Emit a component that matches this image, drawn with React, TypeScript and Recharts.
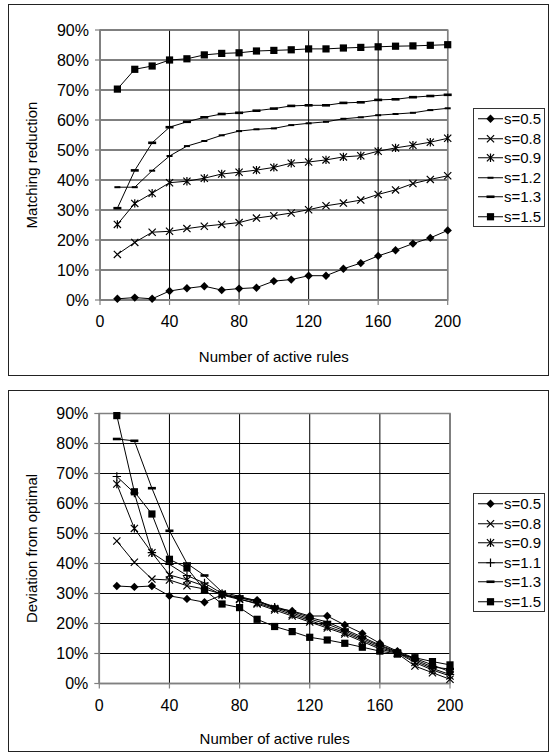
import React from 'react';
import {
  LineChart,
  Line,
  XAxis,
  YAxis,
  CartesianGrid,
  ReferenceArea,
  Legend,
  Label,
} from 'recharts';

// ---- data -----------------------------------------------------------------

const ruleCounts = [10, 20, 30, 40, 50, 60, 70, 80, 90, 100, 110, 120, 130, 140, 150, 160, 170, 180, 190, 200];
const xTicks = [0, 40, 80, 120, 160, 200];
const pctTicks = [0, 10, 20, 30, 40, 50, 60, 70, 80, 90];

// Matching reduction (%)
const reductionS05 = [0.4, 0.8, 0.4, 3.0, 3.9, 4.6, 3.3, 3.8, 4.1, 6.3, 6.8, 8.1, 8.1, 10.4, 12.3, 14.7, 16.6, 18.8, 20.7, 23.2];
const reductionS08 = [15.2, 19.2, 22.6, 22.9, 23.8, 24.6, 25.2, 25.8, 27.3, 28.1, 29.0, 30.1, 31.4, 32.3, 33.3, 35.2, 36.7, 38.8, 40.2, 41.4];
const reductionS09 = [25.2, 32.2, 35.6, 39.1, 39.6, 40.6, 42.0, 42.6, 43.3, 44.2, 45.6, 46.0, 46.7, 47.7, 48.1, 49.6, 50.7, 51.6, 52.6, 53.9];
const reductionS12 = [37.6, 37.6, 43.1, 48.0, 51.3, 53.0, 54.9, 56.3, 56.9, 57.2, 58.3, 58.9, 59.4, 60.4, 60.9, 61.6, 62.0, 62.4, 63.3, 63.9];
const reductionS13 = [30.6, 43.2, 52.4, 57.6, 59.4, 60.9, 62.0, 62.4, 63.1, 63.8, 64.7, 64.9, 64.9, 65.7, 65.9, 66.7, 66.9, 67.6, 68.0, 68.4];
const reductionS15 = [70.3, 76.9, 78.0, 80.0, 80.4, 81.7, 82.2, 82.4, 83.0, 83.2, 83.4, 83.7, 83.7, 84.0, 84.2, 84.4, 84.6, 84.7, 84.9, 85.1];

// Deviation from optimal (%)
const deviationS05 = [32.5, 32.2, 32.5, 29.2, 28.2, 27.1, 29.5, 28.5, 27.8, 25.1, 24.2, 22.5, 22.5, 19.5, 16.7, 13.4, 10.8, 8.4, 6.2, 3.9];
const deviationS08 = [47.5, 40.4, 34.8, 34.5, 32.6, 31.5, 29.8, 28.2, 26.5, 24.5, 22.5, 20.5, 18.5, 16.5, 14.0, 11.5, 10.0, 5.8, 3.6, 1.4];
const deviationS09 = [66.5, 51.7, 43.6, 36.2, 34.5, 32.5, 29.5, 28.0, 26.8, 25.0, 23.0, 21.0, 19.0, 17.0, 14.5, 12.0, 10.2, 7.0, 4.5, 2.5];
const deviationS11 = [69.0, 63.5, 43.6, 39.7, 36.0, 33.5, 30.0, 28.6, 27.2, 25.4, 23.5, 21.5, 19.8, 17.5, 15.0, 12.5, 10.4, 7.5, 5.0, 3.0];
const deviationS13 = [81.5, 80.9, 65.1, 50.9, 40.0, 36.0, 30.5, 29.0, 27.5, 25.6, 24.0, 22.0, 20.5, 18.0, 15.5, 12.8, 10.6, 8.0, 5.5, 4.8];
const deviationS15 = [89.3, 63.9, 56.5, 41.4, 38.5, 31.2, 26.5, 25.3, 21.4, 19.0, 17.3, 15.4, 14.5, 13.4, 12.1, 10.8, 9.8, 8.6, 7.3, 6.2];

const topLabels = ['s=0.5', 's=0.8', 's=0.9', 's=1.2', 's=1.3', 's=1.5'];
const bottomLabels = ['s=0.5', 's=0.8', 's=0.9', 's=1.1', 's=1.3', 's=1.5'];

// ---- styling --------------------------------------------------------------

const FONT = '"Liberation Sans", Arial, sans-serif';
const GREY = '#808080';

type MarkerKind = 'diamond' | 'cross' | 'asterisk' | 'plus' | 'shortDash' | 'longDash' | 'square';

const topMarkers: MarkerKind[] = ['diamond', 'cross', 'asterisk', 'shortDash', 'longDash', 'square'];
const bottomMarkers: MarkerKind[] = ['diamond', 'cross', 'asterisk', 'plus', 'longDash', 'square'];

function Marker({ kind, cx, cy }: { kind: MarkerKind; cx: number; cy: number }) {
  switch (kind) {
    case 'diamond':
      return <polygon points={`${cx},${cy - 4.2} ${cx + 4.2},${cy} ${cx},${cy + 4.2} ${cx - 4.2},${cy}`} fill="#000" />;
    case 'cross':
      return (
        <path
          d={`M${cx - 3.6},${cy - 3.6}L${cx + 3.6},${cy + 3.6}M${cx - 3.6},${cy + 3.6}L${cx + 3.6},${cy - 3.6}`}
          stroke="#000"
          strokeWidth={1.2}
          fill="none"
        />
      );
    case 'asterisk':
      return (
        <path
          d={`M${cx - 3.6},${cy - 3.6}L${cx + 3.6},${cy + 3.6}M${cx - 3.6},${cy + 3.6}L${cx + 3.6},${cy - 3.6}M${cx},${cy - 4.2}L${cx},${cy + 4.2}`}
          stroke="#000"
          strokeWidth={1.2}
          fill="none"
        />
      );
    case 'plus':
      return (
        <path
          d={`M${cx - 4.2},${cy}L${cx + 4.2},${cy}M${cx},${cy - 4.2}L${cx},${cy + 4.2}`}
          stroke="#000"
          strokeWidth={1.2}
          fill="none"
        />
      );
    case 'shortDash':
      return <rect x={cx - 3} y={cy - 1} width={6} height={2} fill="#000" />;
    case 'longDash':
      return <rect x={cx - 4} y={cy - 1.3} width={8} height={2.6} fill="#000" />;
    case 'square':
    default:
      return <rect x={cx - 3.6} y={cy - 3.6} width={7.2} height={7.2} fill="#000" />;
  }
}

const dotRenderer = (kind: MarkerKind) => (p: any) => {
  if (p.cx == null || p.cy == null) return <g key={`${p.dataKey}-${p.index}`} />;
  return (
    <g key={`${p.dataKey}-${p.index}`}>
      <Marker kind={kind} cx={p.cx} cy={p.cy} />
    </g>
  );
};

function LegendBox({ labels, markers }: { labels: string[]; markers: MarkerKind[] }) {
  return (
    <div
      style={{
        border: '1px solid #333',
        background: '#fff',
        boxSizing: 'border-box',
        width: '100%',
        fontFamily: FONT,
        fontSize: 15,
        color: '#000',
      }}
    >
      {labels.map((label, i) => (
        <div key={label} style={{ display: 'flex', alignItems: 'center', height: 19.5 }}>
          <svg width={30} height={19.5} style={{ display: 'block' }}>
            <line x1={4} y1={9.75} x2={29} y2={9.75} stroke="#000" strokeWidth={1} />
            <Marker kind={markers[i]} cx={16.5} cy={9.75} />
          </svg>
          <span style={{ lineHeight: '19.5px', whiteSpace: 'nowrap' }}>{label}</span>
        </div>
      ))}
    </div>
  );
}

type PanelProps = {
  top: number;
  height: number;
  plotLeft: number;
  plotRight: number;
  plotTop: number;
  plotBottom: number;
  series: number[][];
  labels: string[];
  markers: MarkerKind[];
  yTitle: string;
  xTitleDrop: number;
  legendTop: number;
};

function Panel(props: PanelProps) {
  const { top, height, plotLeft, plotRight, plotTop, plotBottom, series, labels, markers, yTitle, xTitleDrop, legendTop } = props;
  const rows = ruleCounts.map((x, i) => {
    const row: Record<string, number> = { x };
    series.forEach((s, k) => {
      row[`s${k}`] = s[i];
    });
    return row;
  });
  const width = 553;

  return (
    <div style={{ position: 'absolute', left: 0, top, width, height }}>
      <LineChart
        width={width}
        height={height}
        data={rows}
        margin={{ top: plotTop, right: width - plotRight, left: 0, bottom: 0 }}
      >
        <CartesianGrid stroke="#000" strokeWidth={1} />
        <XAxis
          dataKey="x"
          type="number"
          domain={[0, 200]}
          ticks={xTicks}
          interval={0}
          height={height - plotBottom}
          tickSize={5}
          tickMargin={11}
          axisLine={{ stroke: GREY, strokeWidth: 1.5 }}
          tickLine={{ stroke: GREY, strokeWidth: 1.2 }}
          tick={{ fill: '#000', fontSize: 16, fontFamily: FONT }}
        >
          <Label
            content={(lp: any) => {
              const vb = lp.viewBox || {};
              return (
                <text
                  x={vb.x + vb.width / 2}
                  y={vb.y + xTitleDrop}
                  textAnchor="middle"
                  fontFamily={FONT}
                  fontSize={15}
                  fill="#000"
                >
                  Number of active rules
                </text>
              );
            }}
          />
        </XAxis>
        <YAxis
          type="number"
          domain={[0, 90]}
          ticks={pctTicks}
          interval={0}
          width={plotLeft}
          tickSize={5}
          tickMargin={6}
          tickFormatter={(v: number) => `${v}%`}
          axisLine={{ stroke: GREY, strokeWidth: 1.5 }}
          tickLine={{ stroke: GREY, strokeWidth: 1.2 }}
          tick={{ fill: '#000', fontSize: 16, fontFamily: FONT }}
        >
          <Label
            content={(lp: any) => {
              const vb = lp.viewBox || {};
              const cy = vb.y + vb.height / 2;
              return (
                <text
                  x={31}
                  y={cy}
                  transform={`rotate(-90 31 ${cy})`}
                  textAnchor="middle"
                  dominantBaseline="central"
                  fontFamily={FONT}
                  fontSize={15}
                  fill="#000"
                >
                  {yTitle}
                </text>
              );
            }}
          />
        </YAxis>
        <ReferenceArea
          x1={0}
          x2={200}
          y1={0}
          y2={90}
          fill="none"
          fillOpacity={0}
          stroke={GREY}
          strokeWidth={1.5}
        />
        {series.map((_, k) => (
          <Line
            key={labels[k]}
            type="linear"
            dataKey={`s${k}`}
            name={labels[k]}
            stroke="#000"
            strokeWidth={1}
            dot={dotRenderer(markers[k])}
            activeDot={false}
            isAnimationActive={false}
          />
        ))}
        <Legend
          layout="vertical"
          align="center"
          verticalAlign="middle"
          wrapperStyle={{ left: 473, top: legendTop, width: 72 }}
          content={() => <LegendBox labels={labels} markers={markers} />}
        />
      </LineChart>
    </div>
  );
}

const frameStyle = (top: number, height: number): React.CSSProperties => ({
  position: 'absolute',
  left: 8,
  top,
  width: 541,
  height,
  border: '1px solid #222',
  boxSizing: 'border-box',
});

export default function App() {
  return (
    <div style={{ position: 'absolute', left: 0, top: 0, width: 553, height: 756, background: '#fff', fontFamily: FONT }}>
      <div style={frameStyle(4, 372)} />
      <div style={frameStyle(390, 362)} />
      <Panel
        top={0}
        height={380}
        plotLeft={100}
        plotRight={447.7}
        plotTop={30}
        plotBottom={300}
        series={[reductionS05, reductionS08, reductionS09, reductionS12, reductionS13, reductionS15]}
        labels={topLabels}
        markers={topMarkers}
        yTitle="Matching reduction"
        xTitleDrop={62}
        legendTop={108}
      />
      <Panel
        top={385}
        height={371}
        plotLeft={99.3}
        plotRight={450}
        plotTop={28.5}
        plotBottom={298.5}
        series={[deviationS05, deviationS08, deviationS09, deviationS11, deviationS13, deviationS15]}
        labels={bottomLabels}
        markers={bottomMarkers}
        yTitle="Deviation from optimal"
        xTitleDrop={60}
        legendTop={108}
      />
    </div>
  );
}
